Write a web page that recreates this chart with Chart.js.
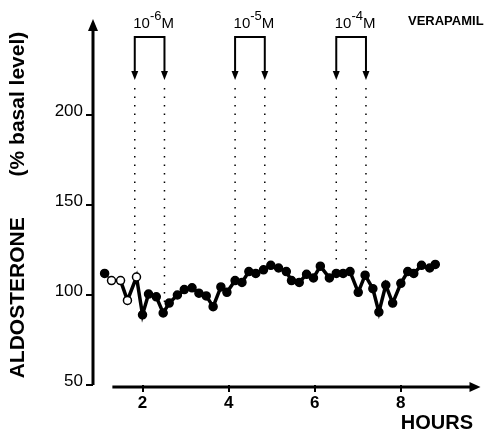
<!DOCTYPE html>
<html>
<head>
<meta charset="utf-8">
<script src="https://cdn.jsdelivr.net/npm/chart.js@4/dist/chart.umd.min.js"></script>
<style>
  body { margin: 0; background: #fff; }
</style>
</head>
<body>
<canvas id="aldosterone" width="486" height="431"></canvas>
<script>
// time (hours) and aldosterone output (% of basal level)
const hours = [1.12, 1.28, 1.49, 1.65, 1.86, 2.0, 2.14, 2.32, 2.48, 2.62, 2.81, 2.97, 3.15, 3.31, 3.48, 3.64,
  3.82, 3.96, 4.15, 4.31, 4.47, 4.63, 4.81, 4.98, 5.16, 5.34, 5.46, 5.64, 5.81, 5.97, 6.13, 6.34,
  6.5, 6.66, 6.82, 7.01, 7.17, 7.35, 7.49, 7.65, 7.81, 8.0, 8.16, 8.3, 8.48, 8.67, 8.8];
const aldosterone = [112, 108, 108, 97, 110, 89, 100.5, 99, 90, 95.5, 100, 103, 104, 101, 99.5, 93.5,
  104.5, 101.5, 108, 107, 113, 112, 114, 116.5, 115, 113, 108, 107, 111.5, 109.5, 116, 109.5,
  112, 112, 113, 101.5, 111, 103.5, 90.5, 105.5, 95.5, 106.5, 113, 112, 116.5, 115, 117];

const yTicks = [50, 100, 150, 200];
const xTicks = [2, 4, 6, 8];

// verapamil infusions: exponent of the molar dose, start and end (hours)
const doseExp = ['-6', '-5', '-4'];
const doseStart = [1.82, 4.15, 6.5];
const doseEnd = [2.51, 4.84, 7.19];

const FONT = '"Liberation Sans", Arial, sans-serif';

function valueAt(t) {
  for (let i = 1; i < hours.length; i++) {
    if (hours[i] >= t) {
      const f = (t - hours[i - 1]) / (hours[i] - hours[i - 1]);
      return aldosterone[i - 1] + f * (aldosterone[i] - aldosterone[i - 1]);
    }
  }
  return aldosterone[aldosterone.length - 1];
}

const decorations = {
  id: 'decorations',
  afterDraw(chart) {
    const ctx = chart.ctx;
    const xs = chart.scales.x, ys = chart.scales.y;
    const area = chart.chartArea;
    ctx.save();
    ctx.fillStyle = '#000';
    ctx.strokeStyle = '#000';

    // y axis with arrow
    const ax = area.left;
    ctx.lineWidth = 3;
    ctx.beginPath();
    ctx.moveTo(ax, ys.getPixelForValue(50));
    ctx.lineTo(ax, area.top + 4);
    ctx.stroke();
    ctx.beginPath();
    ctx.moveTo(ax, area.top - 6);
    ctx.lineTo(ax - 5, area.top + 6);
    ctx.lineTo(ax + 5, area.top + 6);
    ctx.closePath();
    ctx.fill();

    // x axis with arrow
    const ay = area.bottom + 2;
    ctx.beginPath();
    ctx.moveTo(xs.getPixelForValue(1.3), ay);
    ctx.lineTo(area.right - 8, ay);
    ctx.stroke();
    ctx.beginPath();
    ctx.moveTo(area.right, ay);
    ctx.lineTo(area.right - 11, ay - 5);
    ctx.lineTo(area.right - 11, ay + 5);
    ctx.closePath();
    ctx.fill();

    // infusion brackets, arrows and dotted guides
    for (let i = 0; i < doseExp.length; i++) {
      const x1 = xs.getPixelForValue(doseStart[i]);
      const x2 = xs.getPixelForValue(doseEnd[i]);
      ctx.lineWidth = 2;
      ctx.setLineDash([]);
      ctx.beginPath();
      ctx.moveTo(x1, 74);
      ctx.lineTo(x1, 37);
      ctx.lineTo(x2, 37);
      ctx.lineTo(x2, 74);
      ctx.stroke();
      [x1, x2].forEach(x => {
        ctx.beginPath();
        ctx.moveTo(x - 3.5, 71);
        ctx.lineTo(x + 3.5, 71);
        ctx.lineTo(x, 80);
        ctx.closePath();
        ctx.fill();
      });
      ctx.lineWidth = 1.5;
      ctx.setLineDash([1.5, 7]);
      [doseStart[i], doseEnd[i]].forEach(t => {
        const x = xs.getPixelForValue(t);
        ctx.beginPath();
        ctx.moveTo(x, 88);
        ctx.lineTo(x, ys.getPixelForValue(valueAt(t)) - 8);
        ctx.stroke();
      });
      ctx.setLineDash([]);

      // label 10^xM
      const base = '10', sup = doseExp[i], unit = 'M';
      ctx.textBaseline = 'alphabetic';
      ctx.font = '15px ' + FONT;
      const wb = ctx.measureText(base).width;
      const wu = ctx.measureText(unit).width;
      ctx.font = '13px ' + FONT;
      const ws = ctx.measureText(sup).width;
      let x = (x1 + x2) / 2 + 4 - (wb + ws + wu) / 2;
      ctx.textAlign = 'left';
      ctx.font = '15px ' + FONT;
      ctx.fillText(base, x, 28);
      x += wb;
      ctx.font = '13px ' + FONT;
      ctx.fillText(sup, x, 20);
      x += ws;
      ctx.font = '15px ' + FONT;
      ctx.fillText(unit, x, 28);
    }

    ctx.font = 'bold 13px ' + FONT;
    ctx.textAlign = 'left';
    ctx.textBaseline = 'middle';
    ctx.fillText('VERAPAMIL', 408, 21);

    ctx.font = 'bold 20px ' + FONT;
    ctx.textAlign = 'right';
    ctx.fillText('HOURS', 473, 423);
    ctx.restore();
  }
};

new Chart(document.getElementById('aldosterone'), {
  type: 'line',
  data: {
    datasets: [{
      data: hours.map((h, i) => ({ x: h, y: aldosterone[i] })),
      borderColor: '#000',
      borderWidth: 3.5,
      tension: 0,
      pointRadius: 4,
      pointBorderWidth: 1.5,
      pointBorderColor: '#000',
      pointBackgroundColor: ctx => (ctx.dataIndex >= 1 && ctx.dataIndex <= 4 ? '#fff' : '#000'),
      segment: {
        borderWidth: ctx => (ctx.p0DataIndex < 2 ? 1.5 : 3.5)
      }
    }]
  },
  options: {
    responsive: false,
    animation: false,
    layout: { padding: { left: 0, top: 25, right: 3, bottom: 0 } },
    plugins: {
      legend: { display: false },
      tooltip: { enabled: false }
    },
    scales: {
      x: {
        type: 'linear',
        min: 0.85,
        max: 9.85,
        afterBuildTicks: scale => { scale.ticks = xTicks.map(v => ({ value: v })); },
        afterFit: scale => { scale.height = 46; },
        border: { display: false },
        grid: { drawOnChartArea: false, drawTicks: true, tickLength: 7, color: '#000', lineWidth: 2 },
        ticks: {
          color: '#000',
          padding: 1,
          maxRotation: 0,
          font: { family: FONT, size: 17, weight: 'bold' }
        }
      },
      y: {
        min: 50,
        max: 250,
        afterBuildTicks: scale => { scale.ticks = yTicks.map(v => ({ value: v })); },
        afterFit: scale => { scale.width = 93; },
        border: { display: false },
        grid: { drawOnChartArea: false, drawTicks: true, tickLength: 7, color: '#000', lineWidth: 2 },
        ticks: {
          color: '#000',
          padding: 3,
          labelOffset: -4,
          font: { family: FONT, size: 17 }
        },
        title: {
          display: true,
          text: 'ALDOSTERONE       (% basal level)',
          color: '#000',
          padding: { top: 8, bottom: 0 },
          font: { family: FONT, size: 21, weight: 'bold', lineHeight: 1 }
        }
      }
    }
  },
  plugins: [decorations]
});
</script>
</body>
</html>
